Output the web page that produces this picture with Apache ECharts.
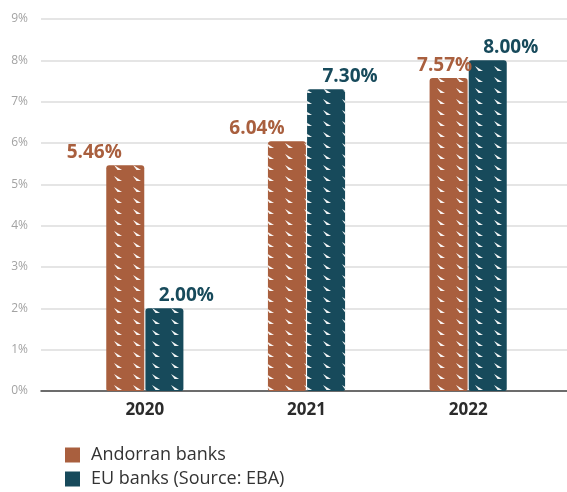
<!DOCTYPE html>
<html>
<head>
<meta charset="utf-8">
<script src="https://cdn.jsdelivr.net/npm/echarts@6/dist/echarts.min.js"></script>
<style>
  html, body { margin: 0; padding: 0; background: #fff; }
  #chart { width: 567px; height: 492px; }
</style>
</head>
<body>
<div id="chart"></div>
<script>
// Non-performing loan ratios by year
const years = ['2020', '2021', '2022'];
const andorranBanks = [5.46, 6.04, 7.57];
const euBanks = [2.00, 7.30, 8.00];
const yTicks = [0, 1, 2, 3, 4, 5, 6, 7, 8, 9];
const seriesNames = ['Andorran banks', 'EU banks (Source: EBA)'];

const ORANGE = '#A95F3E';
const BLUE = '#174A5B';
const FONT = '"Open Sans", "Noto Sans", sans-serif';

// White sketch-like wedge strokes inside each bar
const hatch = {
  symbol: 'path://M0 0L8 5L3.5 5Z',
  symbolSize: 1,
  symbolKeepAspect: false,
  color: 'rgba(255,255,255,0.95)',
  dashArrayX: [[8, 11]],
  dashArrayY: [5, 6],
  rotation: 0
};

const orangeOffsets = [[-31, 0], [-30, 0], [-4, 0]];
const blueOffsets = [[22, 0], [24, 0], [23, 0]];

const chart = echarts.init(document.getElementById('chart'), null, { renderer: 'canvas' });

chart.setOption({
  animation: false,
  textStyle: { fontFamily: FONT },
  grid: [
    { left: 41, right: 0, top: 19, bottom: 101 },
    { left: 64, right: 18, top: 19, bottom: 101 }
  ],
  xAxis: [
    {
      gridIndex: 0, type: 'category', data: years,
      axisLine: { lineStyle: { color: '#444', width: 1.5 } },
      axisTick: { show: false }, axisLabel: { show: false }
    },
    {
      gridIndex: 1, type: 'category', data: years,
      axisLine: { show: false }, axisTick: { show: false },
      axisLabel: { color: '#2b2b2b', fontSize: 17, fontWeight: 'bold', margin: 11, fontFamily: FONT }
    }
  ],
  yAxis: [
    {
      gridIndex: 0, type: 'value', min: yTicks[0], max: yTicks[yTicks.length - 1], interval: 1,
      axisLine: { show: false }, axisTick: { show: false },
      axisLabel: { color: '#a3a3a3', fontSize: 12, margin: 13, formatter: v => v + '%', fontFamily: FONT },
      splitLine: { lineStyle: { color: '#dcdcdc', width: 1.5 } }
    },
    {
      gridIndex: 1, type: 'value', min: yTicks[0], max: yTicks[yTicks.length - 1], interval: 1,
      show: false, splitLine: { show: false }
    }
  ],
  legend: {
    orient: 'vertical', left: 60, top: 441, height: 60,
    itemWidth: 15, itemHeight: 15, itemGap: 6,
    icon: 'rect',
    textStyle: { color: '#333', fontSize: 18, fontFamily: FONT, padding: [0, 0, 0, 6] },
    data: [
      { name: seriesNames[0], itemStyle: { color: ORANGE, decal: 'none' } },
      { name: seriesNames[1], itemStyle: { color: BLUE, decal: 'none' } }
    ]
  },
  series: [
    {
      name: seriesNames[0], type: 'bar', xAxisIndex: 1, yAxisIndex: 1,
      barWidth: 38, barGap: '3%',
      itemStyle: { color: ORANGE, borderRadius: [3, 3, 2, 2], decal: hatch },
      data: andorranBanks.map((v, i) => ({
        value: v,
        label: { offset: orangeOffsets[i] }
      })),
      label: {
        show: true, position: 'top', distance: 3,
        color: ORANGE, fontSize: 19, fontWeight: 'bold', fontFamily: FONT,
        formatter: p => p.value.toFixed(2) + '%'
      }
    },
    {
      name: seriesNames[1], type: 'bar', xAxisIndex: 1, yAxisIndex: 1,
      barWidth: 38,
      itemStyle: { color: BLUE, borderRadius: [3, 3, 2, 2], decal: hatch },
      data: euBanks.map((v, i) => ({
        value: v,
        label: { offset: blueOffsets[i] }
      })),
      label: {
        show: true, position: 'top', distance: 3,
        color: BLUE, fontSize: 19, fontWeight: 'bold', fontFamily: FONT,
        formatter: p => p.value.toFixed(2) + '%'
      }
    }
  ]
});
</script>
</body>
</html>
